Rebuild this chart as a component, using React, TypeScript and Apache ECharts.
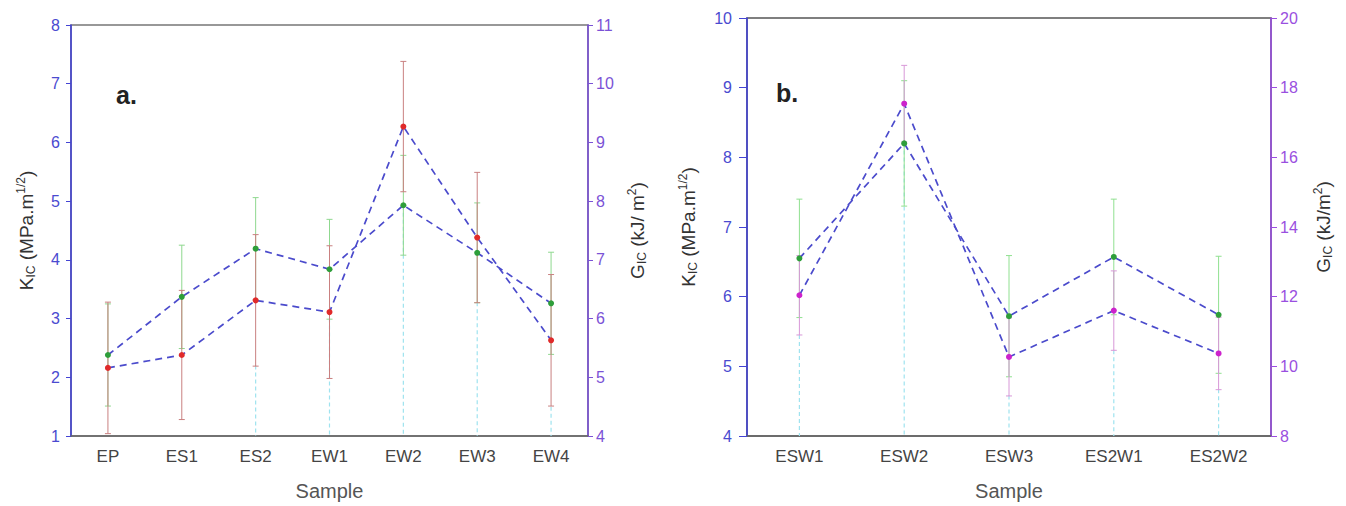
import React, { useEffect, useRef } from "react";
import * as echarts from "echarts";

// Panel a
const catsA = ["EP", "ES1", "ES2", "EW1", "EW2", "EW3", "EW4"];
const kicA = [2.38, 3.37, 4.19, 3.84, 4.93, 4.12, 3.26];
const kicErrA = [0.87, 0.88, 0.87, 0.85, 0.85, 0.85, 0.87];
const gicA = [5.16, 5.38, 6.31, 6.11, 9.27, 7.38, 5.63];
const gicErrA = [1.12, 1.1, 1.12, 1.13, 1.11, 1.11, 1.12];
const dropA = [null, null, 2.2, 3.0, 4.92, 3.28, 1.5];

// Panel b
const catsB = ["ESW1", "ESW2", "ESW3", "ES2W1", "ES2W2"];
const kicB = [6.55, 8.2, 5.72, 6.57, 5.74];
const kicErrB = [0.85, 0.9, 0.87, 0.83, 0.84];
const gicB = [12.04, 17.54, 10.27, 11.6, 10.37];
const gicErrB = [1.14, 1.1, 1.12, 1.14, 1.04];
const dropB = [5.45, 8.2, 4.58, 5.23, 4.67];

const FONT = "Liberation Sans";
const LINE = "#4b4bcc";

const errSeries = (name, xi, yi, vals, errs, color) => ({
  name,
  type: "custom",
  xAxisIndex: xi,
  yAxisIndex: yi,
  z: 2,
  data: vals.map((v, i) => [i, v - errs[i], v + errs[i]]),
  encode: { x: 0, y: [1, 2] },
  renderItem: (params, api) => {
    const lo = api.coord([api.value(0), api.value(1)]);
    const hi = api.coord([api.value(0), api.value(2)]);
    const w = 3;
    const st = { stroke: color, lineWidth: 1 };
    return {
      type: "group",
      children: [
        { type: "line", shape: { x1: lo[0], y1: lo[1], x2: hi[0], y2: hi[1] }, style: st },
        { type: "line", shape: { x1: lo[0] - w, y1: lo[1], x2: lo[0] + w, y2: lo[1] }, style: st },
        { type: "line", shape: { x1: hi[0] - w, y1: hi[1], x2: hi[0] + w, y2: hi[1] }, style: st },
      ],
    };
  },
});

const dropSeries = (xi, yi, vals, base) => ({
  type: "custom",
  xAxisIndex: xi,
  yAxisIndex: yi,
  z: 1,
  data: vals.map((v, i) => (v == null ? [i, base] : [i, v])),
  renderItem: (params, api) => {
    const top = api.coord([api.value(0), api.value(1)]);
    const bot = api.coord([api.value(0), base]);
    return {
      type: "line",
      shape: { x1: top[0], y1: top[1], x2: bot[0], y2: bot[1] },
      style: { stroke: "#9fe3ef", lineWidth: 1.2, lineDash: [4, 3] },
    };
  },
});

const lineSeries = (xi, yi, vals, color) => ({
  type: "line",
  xAxisIndex: xi,
  yAxisIndex: yi,
  z: 3,
  data: vals,
  symbol: "circle",
  symbolSize: 6,
  itemStyle: { color },
  lineStyle: { color: LINE, width: 1.7, type: [7, 5] },
});

const titleRich = {
  m: { fontSize: 19, color: "#333", fontFamily: FONT },
  s: { fontSize: 12, color: "#333", fontFamily: FONT, padding: [10, 0, 0, 0] },
  p: { fontSize: 12, color: "#333", fontFamily: FONT, padding: [0, 0, 10, 0] },
};

const yLeft = (gi, min, max, name, tick, margin, gap) => ({
  type: "value",
  gridIndex: gi,
  position: "left",
  min,
  max,
  interval: 1,
  splitLine: { show: false },
  axisLine: { show: true, lineStyle: { color: "#4444d4", width: 1.6 } },
  axisTick: { show: true, length: tick, lineStyle: { color: "#4444d4" } },
  axisLabel: { color: "#4a4ad0", fontSize: 16, fontFamily: FONT, margin },
  name,
  nameLocation: "middle",
  nameRotate: 90,
  nameGap: gap,
  nameTextStyle: { rich: titleRich },
});

const yRight = (gi, min, max, interval, name, color, tick, margin, gap) => ({
  type: "value",
  gridIndex: gi,
  position: "right",
  min,
  max,
  interval,
  splitLine: { show: false },
  axisLine: { show: true, lineStyle: { color, width: 1.6 } },
  axisTick: { show: true, length: tick, lineStyle: { color } },
  axisLabel: { color, fontSize: 16, fontFamily: FONT, margin },
  name,
  nameLocation: "middle",
  nameRotate: 90,
  nameGap: gap,
  nameTextStyle: { rich: titleRich },
});

const xAxis = (gi, cats) => ({
  type: "category",
  gridIndex: gi,
  data: cats,
  boundaryGap: true,
  axisLine: { lineStyle: { color: "#666", width: 1.6 } },
  axisTick: { alignWithLabel: true, length: 5, lineStyle: { color: "#555" } },
  axisLabel: { color: "#444", fontSize: 17, fontFamily: FONT, margin: 12 },
  name: "Sample",
  nameLocation: "middle",
  nameGap: 45,
  nameTextStyle: { color: "#555", fontSize: 20, fontFamily: FONT },
});

export default function App() {
  const ref = useRef(null);
  useEffect(() => {
    const chart = echarts.init(ref.current, null, { renderer: "svg" });
    chart.setOption({
      animation: false,
      backgroundColor: "#ffffff",
      grid: [
        { left: 71, top: 25, width: 517, height: 418, show: true, borderColor: "#777", borderWidth: 1.5 },
        { left: 747, top: 18, width: 524, height: 424, show: true, borderColor: "#555", borderWidth: 1.5 },
      ],
      xAxis: [xAxis(0, catsA), xAxis(1, catsB)],
      yAxis: [
        yLeft(0, 1, 8, "{m|K}{s|IC}{m| (MPa.m}{p|1/2}{m|)}", 5, 11, 34),
        yRight(0, 4, 11, 1, "{m|G}{s|IC}{m| (kJ/ m}{p|2}{m|)}", "#7b52d6", 5, 8, 38),
        yLeft(1, 4, 10, "{m|K}{s|IC}{m| (MPa.m}{p|1/2}{m|)}", 8, 15, 48),
        yRight(1, 8, 20, 2, "{m|G}{s|IC}{m| (kJ/m}{p|2}{m|)}", "#9a4fe0", 6, 9, 41),
      ],
      graphic: [
        { type: "text", left: 116, top: 82, style: { text: "a.", fontSize: 25, fontWeight: "bold", fill: "#222", fontFamily: FONT } },
        { type: "text", left: 776, top: 80, style: { text: "b.", fontSize: 25, fontWeight: "bold", fill: "#222", fontFamily: FONT } },
      ],
      series: [
        dropSeries(0, 0, dropA, 1),
        errSeries("kicErrA", 0, 0, kicA, kicErrA, "#8fd88f"),
        errSeries("gicErrA", 0, 1, gicA, gicErrA, "#c98080"),
        lineSeries(0, 0, kicA, "#2e9e3a"),
        lineSeries(0, 1, gicA, "#e02a2a"),
        dropSeries(1, 2, dropB, 4),
        errSeries("kicErrB", 1, 2, kicB, kicErrB, "#90e090"),
        errSeries("gicErrB", 1, 3, gicB, gicErrB, "#d898d8"),
        lineSeries(1, 2, kicB, "#2e9e3a"),
        lineSeries(1, 3, gicB, "#cc22cc"),
      ],
    });
    return () => chart.dispose();
  }, []);
  return (
    <div
      ref={ref}
      style={{ position: "fixed", left: 0, top: 0, width: 1346, height: 506 }}
    />
  );
}
